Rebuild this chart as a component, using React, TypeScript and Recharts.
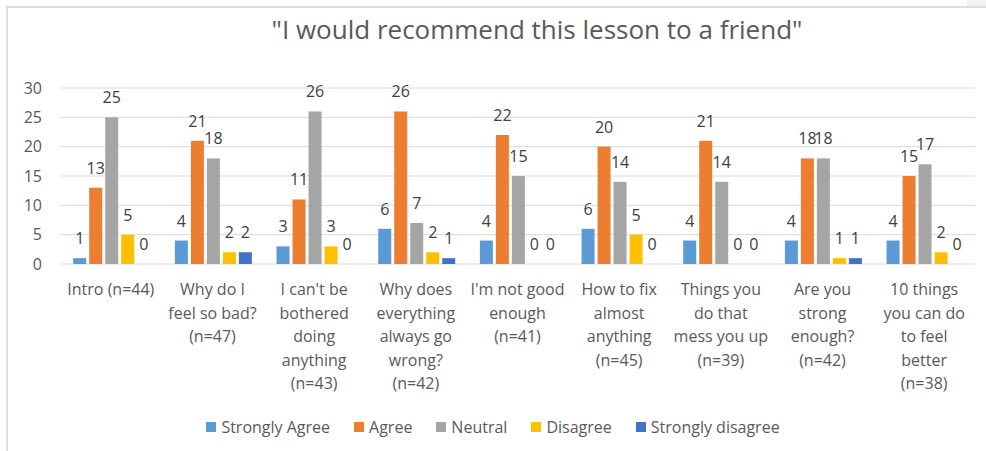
import { BarChart, Bar, XAxis, YAxis, CartesianGrid, LabelList } from 'recharts';

const categories = [
  'Intro (n=44)',
  'Why do I feel so bad? (n=47)',
  "I can't be bothered doing anything (n=43)",
  'Why does everything always go wrong? (n=42)',
  "I'm not good enough (n=41)",
  'How to fix almost anything (n=45)',
  'Things you do that mess you up (n=39)',
  'Are you strong enough? (n=42)',
  '10 things you can do to feel better (n=38)',
];

// how each category label wraps under the axis
const tickLines = [
  ['Intro (n=44)'],
  ['Why do I', 'feel so bad?', '(n=47)'],
  ["I can't be", 'bothered', 'doing', 'anything', '(n=43)'],
  ['Why does', 'everything', 'always go', 'wrong?', '(n=42)'],
  ["I'm not good", 'enough', '(n=41)'],
  ['How to fix', 'almost', 'anything', '(n=45)'],
  ['Things you', 'do that', 'mess you up', '(n=39)'],
  ['Are you', 'strong', 'enough?', '(n=42)'],
  ['10 things', 'you can do', 'to feel', 'better', '(n=38)'],
];

const stronglyAgree = [1, 4, 3, 6, 4, 6, 4, 4, 4];
const agree = [13, 21, 11, 26, 22, 20, 21, 18, 15];
const neutral = [25, 18, 26, 7, 15, 14, 14, 18, 17];
const disagree = [5, 2, 3, 2, 0, 5, 0, 1, 2];
const stronglyDisagree = [0, 2, 0, 1, 0, 0, 0, 1, 0];

const yTicks = [0, 5, 10, 15, 20, 25, 30];

const series = [
  { key: 'stronglyAgree', name: 'Strongly Agree', color: '#5B9BD5' },
  { key: 'agree', name: 'Agree', color: '#ED7D31' },
  { key: 'neutral', name: 'Neutral', color: '#A5A5A5' },
  { key: 'disagree', name: 'Disagree', color: '#FFC000' },
  { key: 'stronglyDisagree', name: 'Strongly disagree', color: '#4472C4' },
];

const data = categories.map((c, i) => ({
  category: c,
  stronglyAgree: stronglyAgree[i],
  agree: agree[i],
  neutral: neutral[i],
  disagree: disagree[i],
  stronglyDisagree: stronglyDisagree[i],
}));

const FONT = '"Open Sans", "Noto Sans", sans-serif';

function CategoryTick(props: any) {
  const { x, y, payload } = props;
  const lines = tickLines[payload.index] ?? [payload.value];
  return (
    <text x={x} y={y} textAnchor="middle" fill="#595959" fontSize={16} fontFamily={FONT}>
      {lines.map((l: string, i: number) => (
        <tspan key={i} x={x} dy={i === 0 ? 0 : 23.5}>
          {l}
        </tspan>
      ))}
    </text>
  );
}

// Excel draws a "0" label above empty bars too
function ValueLabel(props: any) {
  const { x, y, width, height, value } = props;
  if (value === undefined || value === null) return null;
  const top = Math.min(y, y + height);
  return (
    <text
      x={x + width / 2}
      y={top - 14}
      textAnchor="middle"
      fill="#404040"
      fontSize={16}
      fontFamily={FONT}
    >
      {value}
    </text>
  );
}

// skip the tiny placeholder rect of zero bars
function BarShape(props: any) {
  const { x, y, width, height, fill } = props;
  if (Math.abs(height) < 0.5) return <g />;
  return <rect x={x} y={Math.min(y, y + height)} width={width} height={Math.abs(height)} fill={fill} />;
}

export default function App() {
  return (
    <div style={{ position: 'fixed', left: 0, top: 0, width: 986, height: 451, background: '#fff', overflow: 'hidden' }}>
      <div style={{ position: 'absolute', left: 967, top: 0, width: 19, height: 7, background: '#f2f2f2' }} />
      <div
        style={{
          position: 'absolute',
          left: 6,
          top: 6,
          width: 1100,
          height: 500,
          borderTop: '2px solid #dcdcdc',
          borderLeft: '2px solid #dcdcdc',
        }}
      />
      <div
        style={{
          position: 'absolute',
          left: 0,
          top: 14,
          width: 1074,
          textAlign: 'center',
          fontFamily: FONT,
          fontSize: 26,
          lineHeight: '30px',
          color: '#595959',
        }}
      >
        "I would recommend this lesson to a friend"
      </div>
      <div style={{ position: 'absolute', left: 0, top: 0 }}>
        <BarChart
          width={986}
          height={451}
          data={data}
          margin={{ top: 88, right: 11, bottom: 47, left: 0 }}
          barCategoryGap="13%"
          barGap={3}
        >
          <CartesianGrid vertical={false} stroke="#d9d9d9" />
          <YAxis
            width={60}
            domain={[0, 30]}
            ticks={yTicks}
            axisLine={false}
            tickLine={false}
            tickSize={0}
            tickMargin={18}
            tick={{ fill: '#595959', fontSize: 16, fontFamily: FONT }}
          />
          <XAxis
            dataKey="category"
            axisLine={false}
            tickLine={false}
            interval={0}
            height={140}
            tick={<CategoryTick />}
            tickSize={0}
            tickMargin={31}
          />
          {series.map((s) => (
            <Bar
              key={s.key}
              dataKey={s.key}
              name={s.name}
              fill={s.color}
              minPointSize={(v: any) => (v === 0 ? 0.01 : 0)}
              shape={<BarShape />}
              isAnimationActive={false}
            >
              <LabelList dataKey={s.key} content={<ValueLabel />} />
            </Bar>
          ))}
        </BarChart>
      </div>
      <div
        style={{
          position: 'absolute',
          left: 0,
          top: 416,
          width: 986,
          display: 'flex',
          justifyContent: 'center',
          gap: 24,
          fontFamily: FONT,
          fontSize: 16,
          lineHeight: '22px',
          color: '#595959',
        }}
      >
        {series.map((s) => (
          <div key={s.key} style={{ display: 'flex', alignItems: 'center', gap: 5 }}>
            <span style={{ width: 10, height: 10, background: s.color, display: 'inline-block' }} />
            <span>{s.name}</span>
          </div>
        ))}
      </div>
    </div>
  );
}
